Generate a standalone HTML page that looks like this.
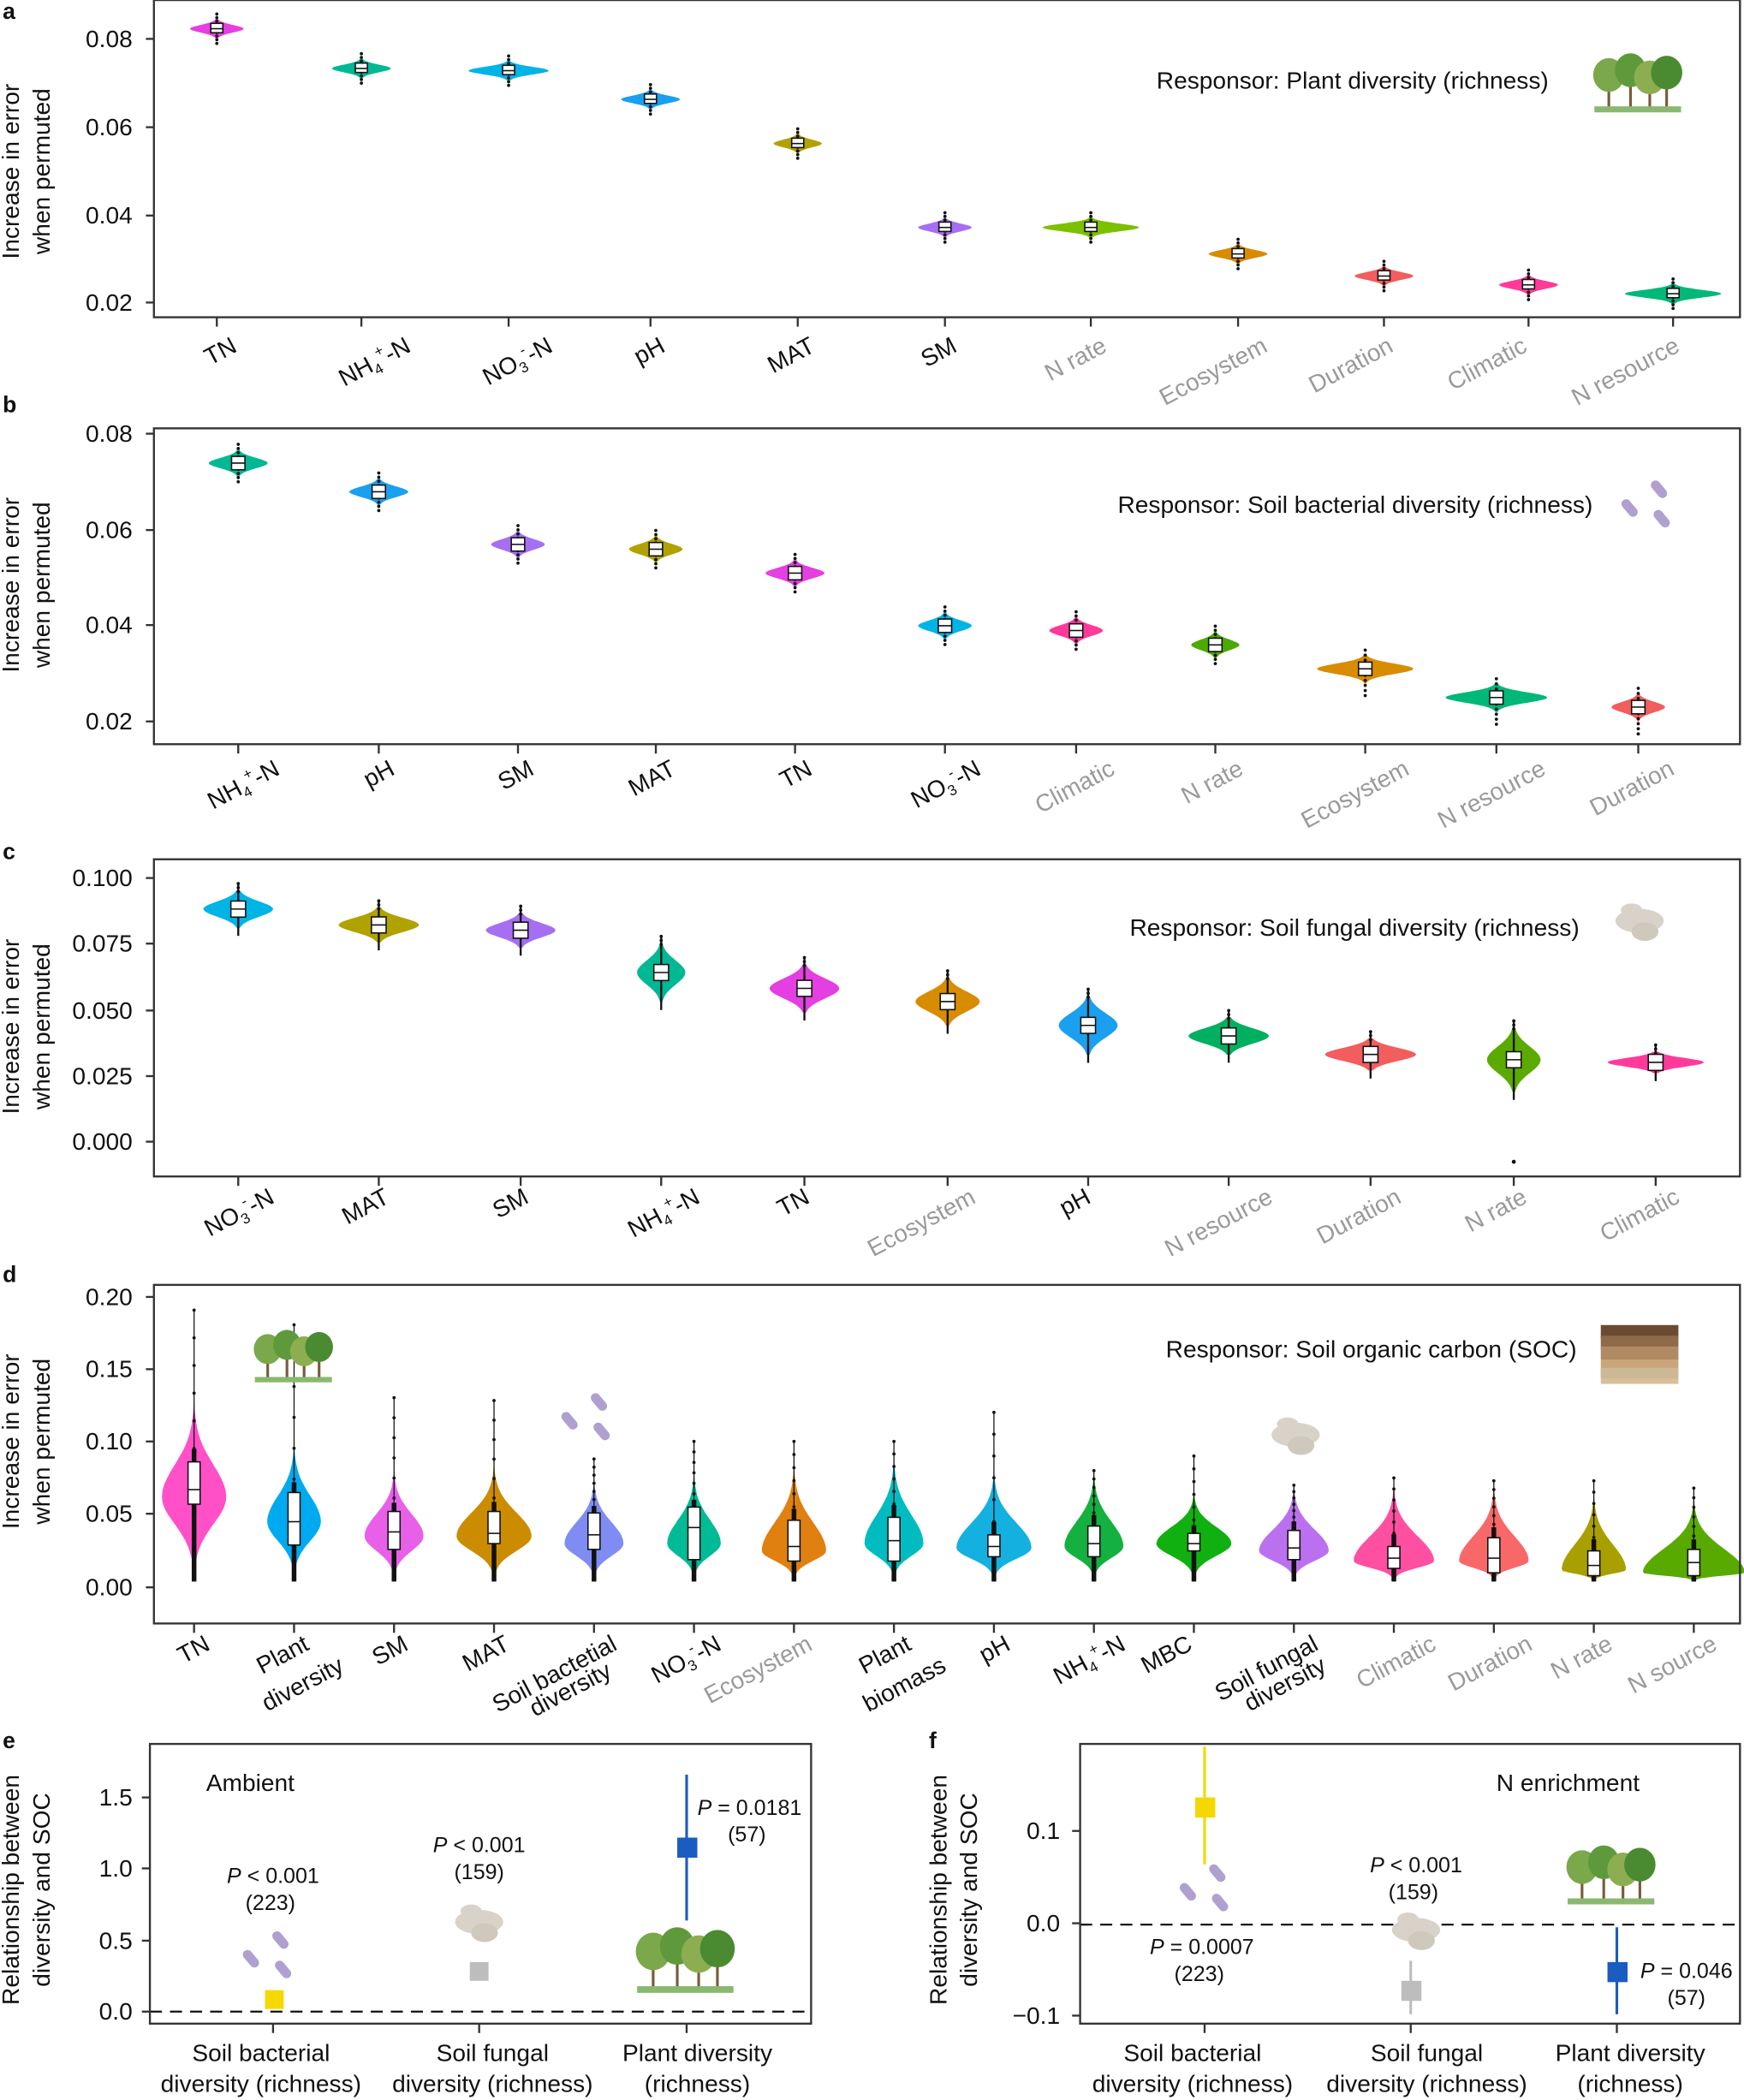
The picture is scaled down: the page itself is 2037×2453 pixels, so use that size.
<!DOCTYPE html>
<html><head><meta charset="utf-8"><style>
html,body{margin:0;padding:0;background:#fff}
svg{display:block}
text{font-family:"Liberation Sans",Arial,sans-serif;fill:#111}
.t{font-family:"Liberation Sans Narrow","Liberation Sans",sans-serif;font-size:18px}
.xl{font-size:18px}
.g{fill:#9a9a9a}
.pl{font-size:18px}
.r{font-size:18px}
</style></head><body>
<svg id="s" width="2037" height="2453" viewBox="0 0 1303 1569" xmlns="http://www.w3.org/2000/svg">
<g id="shapes"></g>
<g fill="none" stroke="#333" stroke-width="1.5">
<rect x="115" y="0" width="1185" height="237"/>
<rect x="115" y="320" width="1185" height="236"/>
<rect x="115" y="642" width="1185" height="237"/>
<rect x="115" y="960" width="1185" height="253"/>
<rect x="112" y="1303" width="494" height="209"/>
<rect x="807" y="1303" width="493" height="209"/>
</g>
<!-- panel letters -->
<g font-weight="bold" font-size="17">
<text x="2" y="14">a</text><text x="2" y="308">b</text><text x="2" y="642">c</text><text x="2" y="958">d</text><text x="2" y="1306">e</text><text x="694" y="1306">f</text>
</g>
<!-- y axis titles -->
<g font-size="18" text-anchor="middle">
<text transform="translate(14,128) rotate(-90)">Increase in error</text>
<text transform="translate(37,128) rotate(-90)">when permuted</text>
<text transform="translate(14,437) rotate(-90)">Increase in error</text>
<text transform="translate(37,437) rotate(-90)">when permuted</text>
<text transform="translate(14,767) rotate(-90)">Increase in error</text>
<text transform="translate(37,767) rotate(-90)">when permuted</text>
<text transform="translate(14,1077) rotate(-90)">Increase in error</text>
<text transform="translate(37,1077) rotate(-90)">when permuted</text>
<text transform="translate(14,1412) rotate(-90)">Relationship between</text>
<text transform="translate(37,1412) rotate(-90)">diversity and SOC</text>
<text transform="translate(707,1412) rotate(-90)">Relationship between</text>
<text transform="translate(730,1412) rotate(-90)">diversity and SOC</text>
</g>
<!-- y ticks labels -->
<g class="t" text-anchor="end">
<text x="99" y="35">0.08</text><text x="99" y="101">0.06</text><text x="99" y="167">0.04</text><text x="99" y="232">0.02</text>
<text x="99" y="330">0.08</text><text x="99" y="402">0.06</text><text x="99" y="473">0.04</text><text x="99" y="545">0.02</text>
<text x="99" y="662">0.100</text><text x="99" y="711">0.075</text><text x="99" y="761">0.050</text><text x="99" y="810">0.025</text><text x="99" y="859">0.000</text>
<text x="99" y="975">0.20</text><text x="99" y="1029">0.15</text><text x="99" y="1083">0.10</text><text x="99" y="1137">0.05</text><text x="99" y="1192">0.00</text>
<text x="99" y="1349">1.5</text><text x="99" y="1402">1.0</text><text x="99" y="1456">0.5</text><text x="99" y="1509">0.0</text>
<text x="792" y="1374">0.1</text><text x="792" y="1443">0.0</text><text x="792" y="1512">−0.1</text>
</g>
<!-- responsor titles -->
<g font-size="18" text-anchor="end">
<text x="1157" y="66">Responsor: Plant diversity (richness)</text>
<text x="1190" y="383">Responsor: Soil bacterial diversity (richness)</text>
<text x="1180" y="699">Responsor: Soil fungal diversity (richness)</text>
<text x="1178" y="1014">Responsor: Soil organic carbon (SOC)</text>
</g>
<!-- x labels a -->
<g class="xl" text-anchor="end">
<text transform="translate(178,262) rotate(-28)">TN</text>
<text transform="translate(308,262) rotate(-28)">NH<tspan font-size="11" dy="4">4</tspan><tspan font-size="11" dy="-12">+</tspan><tspan dy="8">-N</tspan></text>
<text transform="translate(414,262) rotate(-28)">NO<tspan font-size="11" dy="4">3</tspan><tspan font-size="11" dy="-12">-</tspan><tspan dy="8">-N</tspan></text>
<text transform="translate(498,262) rotate(-28)">pH</text>
<text transform="translate(610,262) rotate(-28)">MAT</text>
<text transform="translate(716,262) rotate(-28)">SM</text>
<text class="g" transform="translate(828,262) rotate(-28)">N rate</text>
<text class="g" transform="translate(948,262) rotate(-28)">Ecosystem</text>
<text class="g" transform="translate(1042,262) rotate(-28)">Duration</text>
<text class="g" transform="translate(1142,262) rotate(-28)">Climatic</text>
<text class="g" transform="translate(1256,262) rotate(-28)">N resource</text>
</g>
<!-- x labels b -->
<g class="xl" text-anchor="end">
<text transform="translate(210,578) rotate(-28)">NH<tspan font-size="11" dy="4">4</tspan><tspan font-size="11" dy="-12">+</tspan><tspan dy="8">-N</tspan></text>
<text transform="translate(296,578) rotate(-28)">pH</text>
<text transform="translate(400,578) rotate(-28)">SM</text>
<text transform="translate(506,578) rotate(-28)">MAT</text>
<text transform="translate(608,578) rotate(-28)">TN</text>
<text transform="translate(734,578) rotate(-28)">NO<tspan font-size="11" dy="4">3</tspan><tspan font-size="11" dy="-12">-</tspan><tspan dy="8">-N</tspan></text>
<text class="g" transform="translate(834,578) rotate(-28)">Climatic</text>
<text class="g" transform="translate(930,578) rotate(-28)">N rate</text>
<text class="g" transform="translate(1054,578) rotate(-28)">Ecosystem</text>
<text class="g" transform="translate(1156,578) rotate(-28)">N resource</text>
<text class="g" transform="translate(1252,578) rotate(-28)">Duration</text>
</g>
<!-- x labels c -->
<g class="xl" text-anchor="end">
<text transform="translate(206,898) rotate(-28)">NO<tspan font-size="11" dy="4">3</tspan><tspan font-size="11" dy="-12">-</tspan><tspan dy="8">-N</tspan></text>
<text transform="translate(292,898) rotate(-28)">MAT</text>
<text transform="translate(396,898) rotate(-28)">SM</text>
<text transform="translate(524,898) rotate(-28)">NH<tspan font-size="11" dy="4">4</tspan><tspan font-size="11" dy="-12">+</tspan><tspan dy="8">-N</tspan></text>
<text transform="translate(606,898) rotate(-28)">TN</text>
<text class="g" transform="translate(730,898) rotate(-28)">Ecosystem</text>
<text transform="translate(816,898) rotate(-28)">pH</text>
<text class="g" transform="translate(952,898) rotate(-28)">N resource</text>
<text class="g" transform="translate(1048,898) rotate(-28)">Duration</text>
<text class="g" transform="translate(1142,898) rotate(-28)">N rate</text>
<text class="g" transform="translate(1256,898) rotate(-28)">Climatic</text>
</g>
<!-- x labels d -->
<g class="xl" text-anchor="end">
<text transform="translate(158,1232) rotate(-28)">TN</text>
<text transform="translate(232,1232) rotate(-28)">Plant</text>
<text transform="translate(258,1248) rotate(-28)">diversity</text>
<text transform="translate(306,1232) rotate(-28)">SM</text>
<text transform="translate(382,1232) rotate(-28)">MAT</text>
<text transform="translate(462,1232) rotate(-28)">Soil bactetial</text>
<text transform="translate(458,1252) rotate(-28)">diversity</text>
<text transform="translate(540,1232) rotate(-28)">NO<tspan font-size="11" dy="4">3</tspan><tspan font-size="11" dy="-12">-</tspan><tspan dy="8">-N</tspan></text>
<text class="g" transform="translate(608,1232) rotate(-28)">Ecosystem</text>
<text transform="translate(682,1232) rotate(-28)">Plant</text>
<text transform="translate(708,1248) rotate(-28)">biomass</text>
<text transform="translate(756,1232) rotate(-28)">pH</text>
<text transform="translate(842,1232) rotate(-28)">NH<tspan font-size="11" dy="4">4</tspan><tspan font-size="11" dy="-12">+</tspan><tspan dy="8">-N</tspan></text>
<text transform="translate(892,1232) rotate(-28)">MBC</text>
<text transform="translate(986,1232) rotate(-28)">Soil fungal</text>
<text transform="translate(992,1248) rotate(-28)">diversity</text>
<text class="g" transform="translate(1074,1232) rotate(-28)">Climatic</text>
<text class="g" transform="translate(1146,1232) rotate(-28)">Duration</text>
<text class="g" transform="translate(1206,1232) rotate(-28)">N rate</text>
<text class="g" transform="translate(1284,1232) rotate(-28)">N source</text>
</g>
<!-- e / f labels -->
<g font-size="18" text-anchor="middle">
<text x="195" y="1540">Soil bacterial</text><text x="195" y="1563">diversity (richness)</text>
<text x="368" y="1540">Soil fungal</text><text x="368" y="1563">diversity (richness)</text>
<text x="521" y="1540">Plant diversity</text><text x="521" y="1563">(richness)</text>
<text x="891" y="1540">Soil bacterial</text><text x="891" y="1563">diversity (richness)</text>
<text x="1066" y="1540">Soil fungal</text><text x="1066" y="1563">diversity (richness)</text>
<text x="1218" y="1540">Plant diversity</text><text x="1218" y="1563">(richness)</text>
</g>
<g font-size="16" text-anchor="middle">
<text x="204" y="1407"><tspan font-style="italic">P</tspan> &lt; 0.001</text><text x="202" y="1427">(223)</text>
<text x="358" y="1384"><tspan font-style="italic">P</tspan> &lt; 0.001</text><text x="358" y="1404">(159)</text>
<text x="560" y="1356"><tspan font-style="italic">P</tspan> = 0.0181</text><text x="558" y="1376">(57)</text>
<text x="898" y="1460"><tspan font-style="italic">P</tspan> = 0.0007</text><text x="896" y="1480">(223)</text>
<text x="1058" y="1399"><tspan font-style="italic">P</tspan> &lt; 0.001</text><text x="1056" y="1419">(159)</text>
<text x="1260" y="1478"><tspan font-style="italic">P</tspan> = 0.046</text><text x="1260" y="1498">(57)</text>
</g>
<text x="154" y="1338" font-size="18">Ambient</text>
<text x="1118" y="1338" font-size="18">N enrichment</text>
</svg>
<script>
var NS="http://www.w3.org/2000/svg",G=document.getElementById("shapes");
function el(t,a){var e=document.createElementNS(NS,t);for(var k in a)e.setAttribute(k,a[k]);G.appendChild(e);return e;}
function line(x1,y1,x2,y2,c,w,d){var o={x1:x1,y1:y1,x2:x2,y2:y2,stroke:c,"stroke-width":w||1.5};if(d)o["stroke-dasharray"]=d;el("line",o);}
// ticks
function yt(x,ys){ys.forEach(function(y){line(x-6,y,x,y,"#333",1.5)});}
function xt(y,xs){xs.forEach(function(x){line(x,y,x,y+7,"#333",1.5)});}
var ax=[162,270,380,486,596,706,815,925,1034,1142,1250];
var bx=[178,283,387,490,594,706,804,908,1020,1118,1224];
var cx=[178,283,389,494,601,708,813,918,1024,1131,1237];
var dx=[];for(var i=0;i<16;i++)dx.push(145+i*74.7);
yt(115,[29,95,161,226]);xt(237,ax);
yt(115,[324,396,467,539]);xt(556,bx);
yt(115,[656,705,755,804,853]);xt(879,cx);
yt(115,[969,1023,1077,1131,1186]);xt(1213,dx);
yt(112,[1343,1396,1450,1503]);xt(1512,[204,358,513]);
yt(807,[1368,1437,1506]);xt(1512,[900,1054,1208]);
// violin: symmetric profile
function violin(x,yc,hw,hh,col,prof){
  var pts=[],N=40,i,t,w;
  for(i=0;i<=N;i++){t=-1+2*i/N;w=hw*prof(t);pts.push((x+w).toFixed(1)+","+(yc+t*hh).toFixed(1));}
  for(i=N;i>=0;i--){t=-1+2*i/N;w=hw*prof(t);pts.push((x-w).toFixed(1)+","+(yc+t*hh).toFixed(1));}
  el("polygon",{points:pts.join(" "),fill:col});
}
function box(x,y1,y2,ym,bw){
  el("rect",{x:x-bw/2,y:y1,width:bw,height:y2-y1,fill:"#fff",stroke:"#111","stroke-width":1});
  line(x-bw/2,ym,x+bw/2,ym,"#111",1);
}
function dots(x,y1,y2,n){for(var i=0;i<n;i++){el("circle",{cx:x,cy:y1+(y2-y1)*i/(n-1),r:1.2,fill:"#111"});}}
var gauss=function(t){return Math.exp(-4*t*t)};
// panel a
var ac=["#e43fe0","#00b893","#00b4e6","#1aa0ee","#b0a200","#a66ef2","#7cc000","#d88c00","#f25d5d","#ff3a9a","#00b878"];
var av=[.082,.073,.0725,.066,.056,.037,.037,.031,.026,.024,.022];
var aw=[20,22,30,22,18,20,36,22,22,22,36];
ax.forEach(function(x,i){var y=226-(av[i]-.02)/.02*66;
 violin(x,y,aw[i],9,ac[i],function(t){return Math.exp(-5*t*t)});
 dots(x,y-11,y+11,9);box(x,y-4,y+3,y,9);});
// panel b
var bc=["#00b893","#1aa0ee","#a66ef2","#b0a200","#e43fe0","#00b4e6","#ff3a9a","#4aaa00","#d88c00","#00b878","#f25d5d"];
var bv=[.074,.068,.057,.056,.051,.040,.039,.036,.031,.025,.023];
var bw=[22,22,20,20,22,20,20,18,36,38,20];
bx.forEach(function(x,i){var y=539-(bv[i]-.02)/.02*71.5;
 violin(x,y,bw[i],11,bc[i],function(t){return Math.exp(-4*t*t)});
 dots(x,y-14,y+14+(i>7?6:0),10);box(x,y-5,y+5,y,10);});
// panel c
var cc=["#00b4e6","#b0a200","#a66ef2","#00b893","#e43fe0","#d88c00","#1aa0ee","#00b060","#f25d5d","#5aaa00","#ff3a9a"];
var cv=[.088,.082,.080,.064,.058,.053,.044,.040,.033,.031,.030];
var ch=[14,13,13,22,18,18,22,14,12,24,8];
var cw=[26,30,26,18,26,24,22,30,34,20,36];
cx.forEach(function(x,i){var y=853-cv[i]/.1*197.5;
 violin(x,y,cw[i],ch[i],cc[i],function(t){return Math.exp(-3*t*t)});
 line(x,y-ch[i]-5,x,y+ch[i]+6,"#111",1.5);
 dots(x,y-ch[i]-5,y-ch[i]+1,3);
 box(x,y-6,y+6,y,11);});
el("circle",{cx:1131,cy:868,r:1.5,fill:"#111"});
// panel d
var dc=["#ff50c8","#00aaf0","#e860e8","#cc8c00","#7f8cf4","#00bb95","#e08010","#00bcc0","#14b0e0","#14b040","#10b010","#bb70f0","#ff4fa0","#f86868","#a8a000","#58aa00"];
var dmed=[.067,.045,.038,.037,.036,.041,.028,.032,.028,.030,.030,.027,.020,.020,.015,.017];
var dpk=[.062,.045,.035,.035,.030,.030,.025,.030,.027,.028,.030,.025,.018,.018,.012,.010];
var dtop=[.13,.10,.082,.085,.075,.08,.085,.09,.08,.08,.065,.07,.07,.07,.065,.06];
var dwid=[24,20,22,28,22,20,24,22,28,22,28,26,30,26,24,38];
var dq1=[.057,.029,.026,.030,.026,.019,.018,.018,.021,.021,.025,.019,.013,.010,.008,.008];
var dq3=[.086,.065,.052,.052,.051,.055,.046,.048,.036,.042,.037,.039,.028,.034,.025,.026];
var dmax=[.19,.18,.13,.128,.088,.1,.1,.1,.12,.08,.09,.07,.075,.073,.073,.068];
function Y(v){return 1186-v/.05*54.5;}
dx.forEach(function(x,i){
 var top=Y(dtop[i]),bot=Y(.004),pk=Y(dpk[i]);
 var pts=[],N=50,k,y,w,s;
 for(k=0;k<=N;k++){y=top+(bot-top)*k/N;s=y<pk?(pk-top)/2.2:(bot-pk)/2.2;w=dwid[i]*Math.exp(-Math.pow((y-pk)/s,2));pts.push([y,w]);}
 var p=[];pts.forEach(function(q){p.push((x+q[1]).toFixed(1)+","+q[0].toFixed(1))});
 pts.slice().reverse().forEach(function(q){p.push((x-q[1]).toFixed(1)+","+q[0].toFixed(1))});
 el("polygon",{points:p.join(" "),fill:dc[i]});
 line(x,Y(dmax[i]),x,bot,"#111",0.8);
 line(x,Y(dq3[i])-(Y(dq3[i])-top)*0.2,x,bot,"#111",3.5);
 dots(x,Y(dmax[i]),Y(dq3[i])-10,6);
 box(x,Y(dq3[i]),Y(dq1[i]),Y(dmed[i]),9);
});
// panel e/f
line(112,1503,606,1503,"#111",1.5,"9,6");
line(807,1438,1300,1438,"#111",1.5,"9,6");
line(513,1326,513,1435,"#1a5cc0",2);
el("rect",{x:198,y:1487,width:14,height:14,fill:"#f5d800"});
el("rect",{x:351,y:1466,width:14,height:14,fill:"#bdbdbd"});
el("rect",{x:506,y:1373,width:15,height:15,fill:"#1a5cc0"});
line(900,1305,900,1393,"#f5d800",2);
line(1054,1465,1054,1505,"#bdbdbd",2);
line(1208,1440,1208,1505,"#1a5cc0",2);
el("rect",{x:893,y:1343,width:15,height:15,fill:"#f5d800"});
el("rect",{x:1047,y:1480,width:15,height:15,fill:"#bdbdbd"});
el("rect",{x:1201,y:1466,width:15,height:15,fill:"#1a5cc0"});
// icons: trees
function trees(x,y,s){[[0,0,"#7aa84a"],[18,-4,"#5e9a3c"],[34,2,"#8cae50"],[48,-2,"#4a8a30"]].forEach(function(t){
 line(x+t[0]*s,y+t[1]*s+10*s,x+t[0]*s,y+30*s,"#7a5a3a",2);
 el("ellipse",{cx:x+t[0]*s,cy:y+t[1]*s,rx:13*s,ry:14*s,fill:t[2]});});
 el("rect",{x:x-12*s,y:y+26*s,width:72*s,height:5*s,fill:"#8ab870"});}
trees(1202,56,0.9);trees(200,1008,0.8);trees(488,1458,1.0);trees(1182,1395,0.9);
function bact(x,y){[[0,0],[22,-14],[24,8]].forEach(function(b){
 el("rect",{x:x+b[0],y:y+b[1],width:7,height:15,rx:3.5,fill:"#b0a0d0",transform:"rotate(-40 "+(x+b[0])+" "+(y+b[1])+")"});});}
bact(1210,376);bact(418,1058);bact(180,1460);bact(880,1410);
function fung(x,y){el("ellipse",{cx:x,cy:y,rx:18,ry:9,fill:"#d8d2c8"});el("ellipse",{cx:x+4,cy:y+8,rx:10,ry:7,fill:"#cfc8bc"});el("ellipse",{cx:x-6,cy:y-8,rx:8,ry:5,fill:"#d8d2c8"});}
fung(1225,688);fung(968,1072);fung(358,1436);fung(1058,1442);
// soil
[["#6b4a32",0],["#8c6a4a",8],["#b08a62",16],["#c9a67a",26],["#d8bf98",34]].forEach(function(c){el("rect",{x:1196,y:990+c[1],width:58,height:10,fill:c[0]});});
el("rect",{x:1196,y:1022,width:58,height:8,fill:"#cdb896"});
</script>
</body></html>
